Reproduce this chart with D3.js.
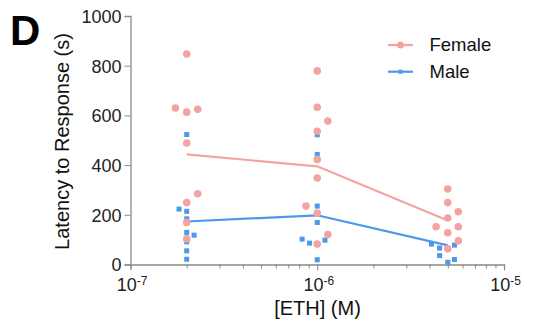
<!DOCTYPE html>
<html><head><meta charset="utf-8">
<script src="https://cdn.jsdelivr.net/npm/d3@7"></script>
<style>body{margin:0;background:#fff}svg{display:block}text{font-family:"Liberation Sans",Arial,sans-serif}</style>
</head><body><svg id="c" width="533" height="331"></svg>
<script>
// Data
const doses = [2e-7, 1e-6, 5e-6];
const femaleMeans = [443, 395, 177];
const maleMeans = [173, 198, 77];
const femaleX = [2e-7,1.74e-7,2e-7,2.29e-7,2e-7,2.29e-7,2e-7,2e-7,2e-7,
                 1e-6,1e-6,1.14e-6,1e-6,1e-6,1e-6,0.87e-6,1e-6,1.14e-6,1e-6,
                 5e-6,5e-6,5.69e-6,5e-6,4.33e-6,5.69e-6,5e-6,5.69e-6,5e-6];
const femaleY = [847,630,613,625,489,285,249,169,103,
                 779,633,577,536,423,348,235,207,121,82,
                 304,249,212,187,152,152,128,95,63];
const maleX = [2e-7,1.82e-7,2e-7,2e-7,2e-7,2.19e-7,2e-7,2e-7,2e-7,
               1e-6,1e-6,1e-6,1e-6,0.83e-6,0.91e-6,1.10e-6,1e-6,
               4.09e-6,4.52e-6,5.43e-6,4.52e-6,5.43e-6,5e-6];
const maleY = [523,223,214,184,129,118,91,55,21,
               522,443,235,169,102,86,98,19,
               82,66,78,36,20,9];
const yTicks = [0,200,400,600,800,1000];
const xDecades = [-7,-6,-5];
const femaleColor = "#F4A3A3", maleColor = "#4D98EA", axisColor = "#8a8a8a";

const svg = d3.select("#c");
const x = d3.scaleLog().domain([1e-7,1e-5]).range([130.5,504]);
const y = d3.scaleLinear().domain([0,1000]).range([264.5,16]);

// axes
const yAxis = svg.append("g").attr("transform","translate(130.5,0)")
  .call(d3.axisLeft(y).tickValues(yTicks).tickSize(6).tickPadding(3).tickFormat(d3.format("d")));
const minor = [];
for (const e of [-7,-6]) for (let m=1;m<=9;m++) minor.push(m*Math.pow(10,e));
minor.push(1e-5);
const xAxis = svg.append("g").attr("transform","translate(0,264.5)")
  .call(d3.axisBottom(x).tickValues(minor).tickSize(4).tickFormat(""));
xAxis.selectAll(".tick line").attr("y2", d => Math.abs(Math.log10(d)-Math.round(Math.log10(d)))<1e-9 ? 6 : 4);
[yAxis,xAxis].forEach(g=>{
  g.select(".domain").attr("stroke",axisColor).attr("stroke-width",1.3);
  g.selectAll(".tick line").attr("stroke",axisColor).attr("stroke-width",1);
});
yAxis.selectAll("text").attr("font-size",18).attr("fill","#222").attr("dy","0.36em");
// x decade labels
const xl = svg.append("g").selectAll("text").data(xDecades).join("text")
  .attr("x", d=>x(Math.pow(10,d))+1.5).attr("y",291).attr("text-anchor","middle")
  .attr("font-size",18).attr("fill","#222");
xl.append("tspan").text("10");
xl.append("tspan").attr("dy",-6.5).attr("font-size",12).text(d=>String(d));

// mean lines
const line = d3.line().x((d,i)=>x(doses[i])).y(d=>y(d));
svg.append("path").datum(femaleMeans).attr("d",line).attr("fill","none").attr("stroke",femaleColor).attr("stroke-width",2.2);
svg.append("path").datum(maleMeans).attr("d",line).attr("fill","none").attr("stroke",maleColor).attr("stroke-width",2.2);

// points
svg.append("g").selectAll("rect").data(maleY).join("rect")
  .attr("x",(d,i)=>x(maleX[i])-2.5).attr("y",d=>y(d)-2.5).attr("width",5).attr("height",5).attr("fill",maleColor);
svg.append("g").selectAll("circle").data(femaleY).join("circle")
  .attr("cx",(d,i)=>x(femaleX[i])).attr("cy",d=>y(d)).attr("r",3.8).attr("fill",femaleColor);

// legend
const leg = [{n:"Female",c:femaleColor,s:"c"},{n:"Male",c:maleColor,s:"s"}];
const lg = svg.append("g").selectAll("g").data(leg).join("g").attr("transform",(d,i)=>`translate(388,${45+i*26.7})`);
lg.append("line").attr("x1",0).attr("x2",25).attr("stroke",d=>d.c).attr("stroke-width",2.2);
lg.filter(d=>d.s==="c").append("circle").attr("cx",12.5).attr("r",3.5).attr("fill",d=>d.c);
lg.filter(d=>d.s==="s").append("rect").attr("x",10.5).attr("y",-2).attr("width",4).attr("height",4).attr("fill",d=>d.c);
lg.append("text").attr("x",41.5).attr("y",6).attr("font-size",18.5).attr("fill","#111").text(d=>d.n);

// titles
svg.append("text").attr("x",317.5).attr("y",315).attr("text-anchor","middle").attr("font-size",20).attr("fill","#111").text("[ETH] (M)");
svg.append("text").attr("transform","translate(69,141.5) rotate(-90)").attr("text-anchor","middle").attr("font-size",20).attr("fill","#111").text("Latency to Response (s)");
svg.append("text").attr("x",10).attr("y",45).attr("font-size",42).attr("font-weight","bold").attr("fill","#000").text("D");
</script></body></html>
